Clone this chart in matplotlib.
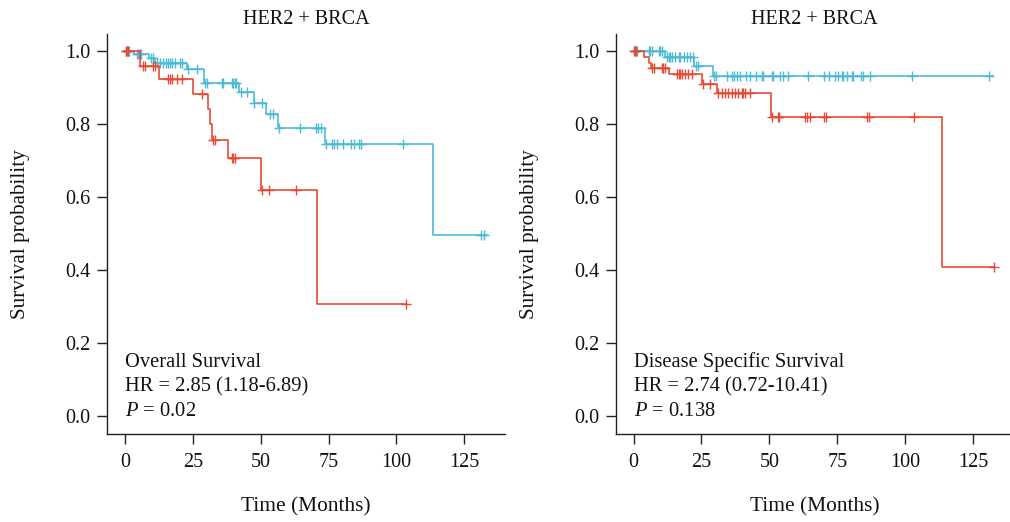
import numpy as np
import matplotlib
matplotlib.use("Agg")
import matplotlib.pyplot as plt

plt.rcParams["font.family"] = ["Liberation Serif", "DejaVu Serif"]
plt.rcParams["mathtext.fontset"] = "custom"
plt.rcParams["mathtext.rm"] = "Liberation Serif"
plt.rcParams["mathtext.it"] = "Liberation Serif:italic"

RED = "#E64B35"
BLUE = "#4DBBD5"

# Overall survival - high expression group (step times / survival)
os_hi_t = [0, 5.5, 12.6, 25.2, 30.7, 31.3, 31.9, 38.0, 50.1, 70.8, 103.5]
os_hi_s = [1.0, 0.959, 0.924, 0.883, 0.842, 0.800, 0.758, 0.707, 0.619, 0.309, 0.309]
os_hi_cens = [0.3, 0.8, 1.3, 6.8, 7.4, 10.4, 11.0, 16.0, 16.6, 17.2, 19.0, 20.9,
              28.5, 32.5, 33.1, 39.3, 39.9, 40.5, 50.6, 53.2, 63.0, 103.5]

# Overall survival - low expression group
os_lo_t = [0, 3.2, 9.0, 11.0, 22.7, 29.2, 42.0, 47.4, 52.0, 56.5, 73.8, 113.6, 133.2]
os_lo_s = [1.0, 0.991, 0.980, 0.968, 0.951, 0.913, 0.888, 0.858, 0.828, 0.790,
           0.746, 0.497, 0.497]
os_lo_cens = [0.5, 1.0, 1.6, 4.3, 4.9, 5.5, 6.1, 9.5, 10.2, 11.7, 12.9, 14.1, 15.3,
              15.9, 16.6, 17.2, 18.4, 20.2, 20.9, 23.3, 26.4, 29.5, 30.1, 35.6,
              36.2, 39.3, 39.9, 40.5, 41.1, 42.6, 44.8, 47.6, 50.6, 53.4, 54.6,
              56.9, 64.5, 70.3, 71.2, 72.1, 74.0, 76.1, 77.0, 78.2, 80.2, 83.1,
              84.3, 86.2, 86.8, 102.5, 131.1, 132.3]

# Disease specific survival - high expression group
dss_hi_t = [0, 3.7, 5.5, 6.5, 13.2, 25.1, 30.6, 50.5, 113.6, 132.6]
dss_hi_s = [1.0, 0.984, 0.968, 0.953, 0.938, 0.910, 0.885, 0.820, 0.410, 0.410]
dss_hi_cens = [0.0, 0.5, 1.0, 6.7, 7.4, 10.4, 11.0, 11.7, 15.9, 16.6, 17.2, 17.8,
               19.0, 20.2, 21.5, 25.7, 28.2, 31.2, 32.4, 33.6, 34.9, 36.1, 37.4,
               38.6, 39.8, 40.4, 41.0, 42.7, 50.8, 53.1, 53.6, 63.1, 63.7, 65.0,
               70.1, 71.0, 86.0, 86.6, 103.2, 132.6]

# Disease specific survival - low expression group
dss_lo_t = [0, 11.6, 22.4, 29.2, 132.3]
dss_lo_s = [1.0, 0.984, 0.959, 0.931, 0.931]
dss_lo_cens = [0.6, 1.2, 5.5, 6.1, 6.7, 9.2, 9.8, 10.4, 12.3, 12.9, 13.5, 14.1,
               15.3, 16.6, 17.2, 18.4, 19.6, 20.8, 21.7, 23.1, 23.7, 29.7, 30.4,
               34.3, 36.1, 36.8, 38.0, 39.2, 41.4, 42.9, 45.1, 47.2, 47.6, 50.9,
               51.3, 53.9, 55.1, 56.8, 64.4, 70.1, 71.9, 74.2, 75.4, 76.7, 77.3,
               78.6, 80.3, 80.8, 83.6, 84.5, 87.0, 102.6, 130.9]

panels = [
    ("Overall Survival", "HR = 2.85 (1.18-6.89)", "0.02",
     (os_lo_t, os_lo_s, os_lo_cens), (os_hi_t, os_hi_s, os_hi_cens)),
    ("Disease Specific Survival", "HR = 2.74 (0.72-10.41)", "0.138",
     (dss_lo_t, dss_lo_s, dss_lo_cens), (dss_hi_t, dss_hi_s, dss_hi_cens)),
]


def surv_at(t, s, x):
    idx = np.searchsorted(t, x, side="right") - 1
    return np.asarray(s)[idx]


fig = plt.figure(figsize=(10.1, 5.22), dpi=100)
lefts = [107 / 1010, 615.7 / 1010]
TXT = "#111111"

for left, (name, hr, pval, lo, hi) in zip(lefts, panels):
    ax = fig.add_axes([left, 1 - 434 / 522, 398 / 1010, 400 / 522])
    for (t, s, cens), col in [(lo, BLUE), (hi, RED)]:
        ax.step(t, s, where="post", color=col, lw=1.2)
        ax.plot(cens, surv_at(t, s, cens), ls="none", marker="+",
                ms=7.5, mew=1.0, color=col)

    ax.set_xlim(-6.6, 140)
    ax.set_ylim(-0.048, 1.047)
    ax.set_xticks([0, 25, 50, 75, 100, 125])
    ax.set_yticks([0.0, 0.2, 0.4, 0.6, 0.8, 1.0])
    ax.set_yticklabels(["0.0", "0.2", "0.4", "0.6", "0.8", "1.0"])
    for sp in ["top", "right"]:
        ax.spines[sp].set_visible(False)
    for sp in ["left", "bottom"]:
        ax.spines[sp].set_color("#222222")
        ax.spines[sp].set_linewidth(1.0)
    ax.tick_params(length=7, width=1.0, color="#222222", labelsize=14.5,
                   labelcolor=TXT)
    ax.tick_params(axis="x", pad=7)
    ax.tick_params(axis="y", pad=5)

    ax.set_title("HER2 + BRCA", fontsize=14.5, pad=7, color=TXT)

    ax.text(0, 0.136, name, fontsize=14.8, va="baseline", color=TXT)
    ax.text(0, 0.068, hr, fontsize=14.8, va="baseline", color=TXT)
    ax.text(0, 0.0, "$P$ = " + pval, fontsize=14.8, va="baseline", color=TXT)

    cx = left + 199 / 1010
    fig.text(cx, 0.029, "Time (Months)", fontsize=15.4, ha="center", va="center",
             color=TXT)
    fig.text(left - 86 / 1010, 0.552, "Survival probability", fontsize=15.2,
             rotation=90, ha="center", va="center", color=TXT)

fig.savefig("out.png", dpi=100)
